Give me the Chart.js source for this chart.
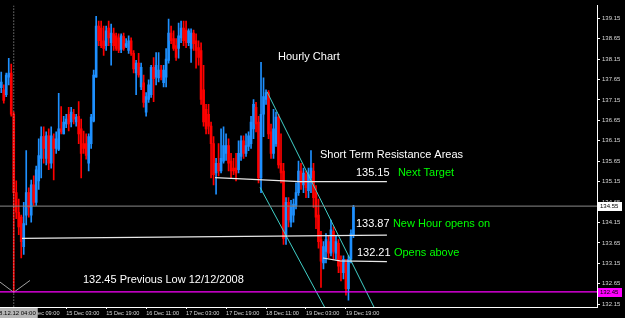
<!DOCTYPE html>
<html>
<head>
<meta charset="utf-8">
<script src="https://cdn.jsdelivr.net/npm/chart.js@4.4.1/dist/chart.umd.min.js"></script>
<style>
  html, body { margin: 0; padding: 0; background: #000; }
  #wrap { position: relative; width: 625px; height: 318px; }
</style>
</head>
<body>
<div id="wrap"><canvas id="hourly"></canvas></div>
<script>
// Hourly bars, 11 Dec 23:00 .. 19 Dec 22:00, one value per bar
const opens = [
  137.45, 137.40, 137.28, 137.71, 137.81, 136.80, 134.88, 134.40, 134.28, 133.56,
  134.33, 134.88, 134.33, 135.07, 134.64, 135.17, 135.72, 136.25, 135.72, 136.27,
  135.60, 136.20, 135.96, 135.94, 136.44, 136.32, 136.56, 136.80, 136.61, 136.80,
  136.61, 136.75, 136.44, 136.08, 136.08, 135.60, 136.08, 136.63, 137.71, 138.96,
  138.91, 138.60, 138.48, 138.91, 138.55, 138.77, 138.72, 138.67, 138.39, 138.70,
  138.46, 138.36, 138.60, 138.29, 137.81, 138.05, 137.47, 137.57, 136.85, 137.16,
  137.28, 137.95, 137.71, 137.69, 137.88, 137.57, 137.71, 138.12, 138.79, 138.65,
  138.48, 138.41, 138.67, 138.91, 138.86, 138.55, 138.41, 138.79, 138.60, 138.43,
  138.36, 137.40, 136.92, 136.80, 136.51, 136.08, 135.36, 135.60, 135.41, 135.65,
  135.84, 136.03, 135.65, 135.48, 135.48, 135.44, 135.77, 136.15, 135.84, 136.01,
  136.08, 136.44, 136.97, 136.61, 135.24, 136.80, 137.16, 137.33, 136.37, 135.84,
  136.08, 136.73, 135.60, 135.41, 133.85, 134.64, 134.16, 134.33, 134.57, 134.88,
  135.41, 135.07, 135.32, 134.93, 135.24, 135.41, 134.88, 134.33, 133.73, 133.16,
  133.44, 133.68, 133.40, 133.93, 133.40, 133.64, 133.16, 132.92, 133.16, 132.53,
  133.25, 133.85
];
const highs = [
  137.83, 137.52, 137.81, 138.17, 138.03, 136.85, 135.17, 134.72, 134.33, 134.64,
  135.91, 135.00, 135.19, 135.29, 135.53, 136.20, 136.49, 136.49, 136.37, 136.44,
  136.49, 136.32, 136.37, 137.31, 136.99, 136.75, 136.80, 136.97, 136.97, 136.92,
  136.80, 137.11, 136.68, 136.39, 136.32, 136.32, 136.80, 137.88, 139.20, 139.08,
  139.08, 138.96, 138.96, 139.08, 139.01, 138.91, 138.79, 138.77, 138.77, 138.79,
  138.65, 138.72, 138.67, 138.36, 138.12, 138.29, 138.05, 137.76, 137.33, 137.64,
  138.00, 138.19, 138.31, 138.31, 138.00, 138.00, 138.41, 139.13, 138.96, 138.84,
  138.65, 139.03, 139.08, 139.08, 139.08, 138.89, 138.89, 138.86, 138.77, 138.60,
  138.55, 138.00, 137.04, 137.04, 136.61, 136.25, 135.72, 136.08, 136.44, 136.49,
  136.32, 136.20, 135.84, 135.72, 135.84, 136.15, 136.27, 136.27, 136.32, 136.37,
  136.75, 137.16, 137.09, 136.75, 138.07, 137.69, 137.40, 137.38, 136.56, 136.92,
  136.85, 136.80, 136.32, 135.60, 134.76, 134.76, 134.69, 134.72, 135.12, 135.65,
  135.60, 135.48, 135.41, 135.48, 135.91, 135.60, 135.05, 134.72, 133.93, 133.68,
  133.88, 133.81, 134.21, 134.04, 133.81, 133.73, 133.33, 133.33, 133.25, 133.33,
  133.97, 134.57
];
const lows = [
  137.33, 137.07, 137.23, 137.52, 136.75, 132.45, 134.24, 133.85, 133.28, 133.37,
  134.09, 134.28, 134.16, 134.57, 134.57, 134.96, 135.24, 135.60, 135.56, 135.44,
  135.48, 135.19, 135.84, 135.91, 136.32, 136.32, 136.47, 136.39, 136.49, 136.56,
  136.51, 136.08, 135.24, 135.84, 135.70, 135.41, 135.96, 136.61, 137.71, 138.48,
  138.43, 138.24, 138.36, 138.48, 138.00, 138.36, 138.36, 138.31, 138.31, 138.36,
  138.43, 138.29, 138.24, 137.81, 137.28, 137.71, 137.40, 136.97, 136.75, 137.09,
  137.21, 137.11, 137.52, 137.59, 137.64, 137.47, 137.47, 138.05, 138.53, 138.36,
  138.12, 138.17, 138.55, 138.48, 138.43, 138.48, 138.07, 138.36, 137.93, 138.00,
  137.04, 136.51, 136.32, 136.32, 135.24, 135.07, 134.84, 135.29, 135.36, 135.60,
  135.67, 135.41, 135.24, 135.32, 135.17, 135.36, 135.67, 135.72, 135.77, 135.91,
  135.96, 136.20, 136.37, 135.12, 134.88, 136.25, 137.04, 136.20, 135.72, 135.72,
  136.01, 135.48, 135.12, 133.61, 133.61, 134.04, 134.04, 134.16, 134.48, 134.81,
  134.96, 134.88, 134.76, 134.76, 134.88, 134.52, 134.00, 133.52, 132.56, 133.01,
  133.16, 133.28, 133.33, 133.25, 133.25, 132.92, 132.72, 132.77, 132.37, 132.25,
  133.16, 133.78
];
const closes = [
  137.59, 137.14, 137.76, 137.81, 136.80, 134.88, 134.40, 134.04, 133.68, 134.12,
  134.88, 134.52, 135.07, 134.64, 135.44, 135.79, 136.25, 135.96, 136.27, 135.60,
  136.27, 135.96, 136.20, 136.44, 136.37, 136.61, 136.68, 136.56, 136.85, 136.68,
  136.73, 136.32, 135.84, 135.96, 135.79, 136.25, 136.73, 137.76, 138.96, 138.60,
  138.48, 138.41, 138.84, 138.67, 138.79, 138.48, 138.41, 138.36, 138.72, 138.41,
  138.53, 138.60, 138.29, 137.91, 138.05, 137.76, 137.95, 137.09, 137.23, 137.52,
  137.95, 137.67, 138.00, 137.88, 137.71, 137.88, 138.15, 138.79, 138.60, 138.41,
  138.19, 138.72, 138.91, 138.60, 138.55, 138.84, 138.79, 138.53, 138.36, 138.19,
  137.16, 136.61, 136.44, 136.51, 136.08, 135.32, 135.60, 135.41, 135.72, 136.03,
  136.03, 135.60, 135.41, 135.41, 135.36, 135.84, 136.15, 135.84, 136.03, 136.27,
  136.61, 137.04, 136.56, 135.24, 136.80, 137.23, 137.33, 136.32, 135.84, 136.44,
  136.73, 135.56, 135.36, 133.76, 134.64, 134.21, 134.52, 134.60, 134.88, 135.41,
  135.12, 135.36, 135.00, 135.32, 135.48, 134.76, 134.28, 133.68, 133.20, 133.56,
  133.73, 133.40, 133.97, 133.44, 133.68, 133.08, 132.92, 133.25, 132.53, 133.25,
  133.88, 134.52
];

const priceTicks = [132.15, 132.65, 133.15, 133.65, 134.15, 134.65, 135.15, 135.65,
  136.15, 136.65, 137.15, 137.65, 138.15, 138.65, 139.15];
const timeLabels = ['12 Dec 09:00', '15 Dec 03:00', '15 Dec 19:00', '16 Dec 11:00',
  '17 Dec 03:00', '17 Dec 19:00', '18 Dec 11:00', '19 Dec 03:00', '19 Dec 19:00'];
const firstLabelBar = 10;   // bar of 12 Dec 09:00
const barsPerLabel = 16;

const bidPrice = 134.55;
const prevLow = 132.45;
const markerBar = 5;        // 12 Dec 04:00
const markerTime = '2008.12.12 04:00';

// drawn objects, as [bar, price]
const lineNextTarget = [[85.6, 135.25], [119.6, 135.15], [154.4, 135.15]];
const lineNewHour = [[8.3, 133.76], [154.4, 133.84]];
const lineOpensAbove = [[128.8, 133.28], [135.6, 133.21], [154.4, 133.19]];
const channelUpper = [[106.4, 137.35], [150.5, 131.92]];
const channelLower = [[103.6, 135.01], [131.0, 131.90]];
const lowArrow = [[-0.5, 132.69], [5, 132.44], [11.5, 132.73]];

const BULL = '#1e90ff', BEAR = '#ff0000';
const WHITE = '#ffffff', GREEN = '#00ff00';
const FONT = '"Liberation Sans", Arial, sans-serif';

Chart.defaults.font.family = FONT;

const barColors = opens.map((o, i) => closes[i] >= o ? BULL : BEAR);

function lineSet(points, color, extra) {
  return Object.assign({
    type: 'line',
    data: points.map(p => ({ x: p[0], y: p[1] })),
    borderColor: color,
    borderWidth: 1,
    pointRadius: 0,
    fill: false,
    tension: 0,
    order: 0
  }, extra || {});
}

const yMin = 132.08, yMax = 139.46;
const lastSlot = 238.5;

// text notes placed in chart values
const notes = [
  { text: 'Hourly Chart', bar: 110.8, price: 138.21, color: WHITE },
  { text: 'Short Term Resistance Areas', bar: 127.6, price: 135.81, color: WHITE },
  { text: '135.15', bar: 142.0, price: 135.35, color: WHITE },
  { text: 'Next Target', bar: 158.8, price: 135.35, color: GREEN },
  { text: '133.87', bar: 142.0, price: 134.11, color: WHITE },
  { text: 'New Hour opens on', bar: 156.8, price: 134.11, color: GREEN },
  { text: '132.21', bar: 142.4, price: 133.40, color: WHITE },
  { text: 'Opens above', bar: 157.2, price: 133.40, color: GREEN },
  { text: '132.45 Previous Low 12/12/2008', bar: 32.7, price: 132.75, color: WHITE }
];

function priceTag(ctx, area, yPix, label, bg, fg) {
  ctx.fillStyle = bg;
  ctx.fillRect(area.right + 1, Math.round(yPix) - 4, 24, 9);
  ctx.fillStyle = fg;
  ctx.font = '6px ' + FONT;
  ctx.textAlign = 'left';
  ctx.textBaseline = 'middle';
  ctx.fillText(label, area.right + 3, Math.round(yPix) + 0.5);
}

const overlay = {
  id: 'overlay',
  afterDraw(chart) {
    const { ctx, chartArea, scales: { x, y } } = chart;
    ctx.save();
    ctx.font = '11px ' + FONT;
    ctx.textAlign = 'left';
    ctx.textBaseline = 'middle';
    notes.forEach(n => {
      ctx.fillStyle = n.color;
      ctx.fillText(n.text, x.getPixelForValue(n.bar), y.getPixelForValue(n.price));
    });

    priceTag(ctx, chartArea, y.getPixelForValue(bidPrice), bidPrice.toFixed(2), '#ffffff', '#000000');
    priceTag(ctx, chartArea, y.getPixelForValue(prevLow), prevLow.toFixed(2), '#ff00ff', '#000000');

    // time tag of the vertical line
    ctx.font = '6px ' + FONT;
    const mx = x.getPixelForValue(markerBar);
    const w = ctx.measureText(markerTime).width + 4;
    ctx.fillStyle = '#b4b4b4';
    ctx.fillRect(mx + 24 - w, chartArea.bottom + 1, w, 10);
    ctx.fillStyle = '#000000';
    ctx.textAlign = 'right';
    ctx.fillText(markerTime, mx + 22, chartArea.bottom + 6.5);
    ctx.restore();
  }
};

new Chart(document.getElementById('hourly'), {
  type: 'bar',
  data: {
    datasets: [
      lineSet([[markerBar, yMax], [markerBar, yMin]], '#b0b0b0', { borderDash: [1, 2] }),
      lineSet([[-0.5, bidPrice], [lastSlot, bidPrice]], '#8a8a8a'),
      lineSet([[-0.5, prevLow], [lastSlot, prevLow]], '#ff00ff', { borderWidth: 1.3 }),
      lineSet(lineNextTarget, '#e8e8e8', { borderWidth: 1.2 }),
      lineSet(lineNewHour, '#e8e8e8', { borderWidth: 1.2 }),
      lineSet(lineOpensAbove, '#e8e8e8', { borderWidth: 1.2 }),
      lineSet(channelUpper, '#40d0c8'),
      lineSet(channelLower, '#40d0c8'),
      lineSet(lowArrow, '#a0a0a0'),
      {
        label: 'body',
        data: opens.map((o, i) => ({ x: i, y: [o, closes[i]] })),
        backgroundColor: barColors,
        barThickness: 2,
        minBarLength: 1,
        grouped: false,
        order: 1
      },
      {
        label: 'wick',
        data: lows.map((l, i) => ({ x: i, y: [l, highs[i]] })),
        backgroundColor: barColors,
        barThickness: 1,
        grouped: false,
        order: 2
      }
    ]
  },
  options: {
    responsive: true,
    maintainAspectRatio: false,
    animation: false,
    layout: { padding: 0 },
    plugins: { legend: { display: false }, tooltip: { enabled: false }, title: { display: false } },
    scales: {
      x: {
        type: 'linear',
        min: -0.5,
        max: lastSlot,
        bounds: 'data',
        offset: false,
        afterBuildTicks: s => { s.ticks = timeLabels.map((t, k) => ({ value: firstLabelBar + k * barsPerLabel })); },
        afterFit: s => { s.height = 11; },
        ticks: {
          color: '#d8d8d8',
          font: { size: 5.6 },
          align: 'start',
          maxRotation: 0,
          autoSkip: false,
          padding: 1,
          callback: (v, k) => timeLabels[k]
        },
        grid: { offset: false, drawOnChartArea: false, color: '#ffffff', tickLength: 2 },
        border: { color: '#ffffff', width: 1 }
      },
      y: {
        type: 'linear',
        position: 'right',
        min: yMin,
        max: yMax,
        bounds: 'data',
        afterBuildTicks: s => { s.ticks = priceTicks.map(v => ({ value: v })); },
        afterFit: s => { s.width = 28; },
        ticks: {
          color: '#d8d8d8',
          font: { size: 6 },
          padding: 2,
          callback: v => Number(v).toFixed(2)
        },
        grid: { drawOnChartArea: false, color: '#ffffff', tickLength: 3 },
        border: { color: '#ffffff', width: 1 }
      }
    }
  },
  plugins: [overlay]
});
</script>
</body>
</html>
